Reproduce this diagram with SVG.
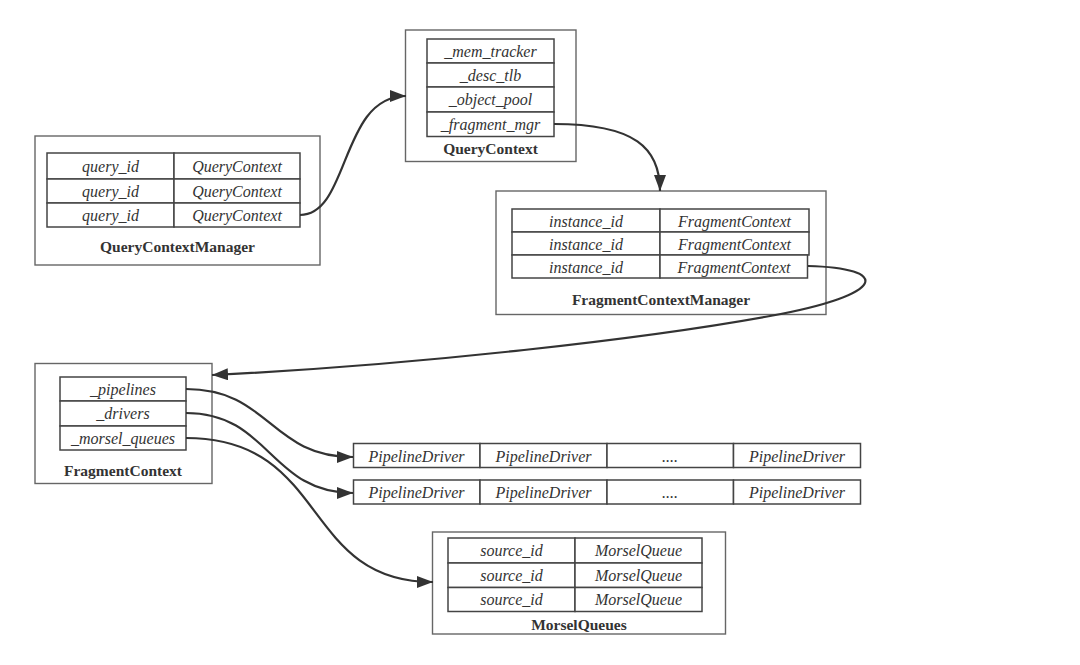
<svg xmlns="http://www.w3.org/2000/svg" width="1080" height="665" viewBox="0 0 1080 665">
<style>
.box{fill:none;stroke:#666;stroke-width:1.4}
.cell{fill:#fff;stroke:#444;stroke-width:1.5}
.t{font-family:"Liberation Serif",serif;font-style:italic;font-size:16px;fill:#333;text-anchor:middle}
.title{font-family:"Liberation Serif",serif;font-weight:bold;font-size:15.5px;fill:#333;text-anchor:middle}
.edge{fill:none;stroke:#333;stroke-width:2.2}
</style>
<defs>
<marker id="arr" markerUnits="userSpaceOnUse" markerWidth="18" markerHeight="14" refX="16" refY="6" orient="auto">
<path d="M0,0 L16,6 L0,12 Z" fill="#333"/>
</marker>
</defs>
<rect width="1080" height="665" fill="#fff"/>

<g id="QueryContextManager">
<rect class="box" x="35" y="136" width="285" height="129"/>
<rect class="cell" x="47" y="153" width="127" height="26"/>
<rect class="cell" x="174" y="153" width="126" height="26"/>
<rect class="cell" x="47" y="179" width="127" height="24"/>
<rect class="cell" x="174" y="179" width="126" height="24"/>
<rect class="cell" x="47" y="203" width="127" height="24"/>
<rect class="cell" x="174" y="203" width="126" height="24"/>
<text class="t" x="110.5" y="171.5">query_id</text>
<text class="t" x="237" y="171.5">QueryContext</text>
<text class="t" x="110.5" y="196.5">query_id</text>
<text class="t" x="237" y="196.5">QueryContext</text>
<text class="t" x="110.5" y="220.5">query_id</text>
<text class="t" x="237" y="220.5">QueryContext</text>
<text class="title" x="177.5" y="251.5">QueryContextManager</text>
</g>

<g id="QueryContext">
<rect class="box" x="405.5" y="30" width="170.5" height="131.5"/>
<rect class="cell" x="427" y="39" width="127" height="24"/>
<rect class="cell" x="427" y="63" width="127" height="24"/>
<rect class="cell" x="427" y="87" width="127" height="25"/>
<rect class="cell" x="427" y="112" width="127" height="24.5"/>
<text class="t" x="490.5" y="56.5">_mem_tracker</text>
<text class="t" x="490.5" y="80.5">_desc_tlb</text>
<text class="t" x="490.5" y="105">_object_pool</text>
<text class="t" x="490.5" y="129.5">_fragment_mgr</text>
<text class="title" x="490.5" y="153.5">QueryContext</text>
</g>

<g id="FragmentContextManager">
<rect class="box" x="496" y="191" width="330" height="123.5"/>
<rect class="cell" x="512" y="209" width="148" height="23"/>
<rect class="cell" x="660" y="209" width="149" height="23"/>
<rect class="cell" x="512" y="232" width="148" height="23"/>
<rect class="cell" x="660" y="232" width="149" height="23"/>
<rect class="cell" x="512" y="255" width="148" height="23"/>
<rect class="cell" x="660" y="255" width="147.5" height="23"/>
<text class="t" x="586" y="226.5">instance_id</text>
<text class="t" x="734.5" y="226.5">FragmentContext</text>
<text class="t" x="586" y="249.5">instance_id</text>
<text class="t" x="734.5" y="249.5">FragmentContext</text>
<text class="t" x="586" y="272.5">instance_id</text>
<text class="t" x="734" y="272.5">FragmentContext</text>
<text class="title" x="661" y="304.5">FragmentContextManager</text>
</g>

<g id="FragmentContext">
<rect class="box" x="35" y="363.5" width="177" height="120"/>
<rect class="cell" x="60" y="377" width="126" height="24"/>
<rect class="cell" x="60" y="401" width="126" height="25"/>
<rect class="cell" x="60" y="426" width="126" height="24"/>
<text class="t" x="123" y="394.5">_pipelines</text>
<text class="t" x="123" y="419">_drivers</text>
<text class="t" x="123" y="443.5">_morsel_queues</text>
<text class="title" x="123" y="475.5">FragmentContext</text>
</g>

<g id="PipelineDrivers1">
<rect class="cell" x="353.5" y="443.5" width="126.5" height="24"/>
<rect class="cell" x="480" y="443.5" width="127" height="24"/>
<rect class="cell" x="607" y="443.5" width="126.5" height="24"/>
<rect class="cell" x="733.5" y="443.5" width="127" height="24"/>
<text class="t" x="416.5" y="461.5">PipelineDriver</text>
<text class="t" x="543.5" y="461.5">PipelineDriver</text>
<text class="t" x="670" y="461.5">....</text>
<text class="t" x="797" y="461.5">PipelineDriver</text>
</g>

<g id="PipelineDrivers2">
<rect class="cell" x="353.5" y="480" width="126.5" height="24"/>
<rect class="cell" x="480" y="480" width="127" height="24"/>
<rect class="cell" x="607" y="480" width="126.5" height="24"/>
<rect class="cell" x="733.5" y="480" width="127" height="24"/>
<text class="t" x="416.5" y="498">PipelineDriver</text>
<text class="t" x="543.5" y="498">PipelineDriver</text>
<text class="t" x="670" y="498">....</text>
<text class="t" x="797" y="498">PipelineDriver</text>
</g>

<g id="MorselQueues">
<rect class="box" x="432.5" y="532" width="293" height="102"/>
<rect class="cell" x="448" y="538" width="127" height="25"/>
<rect class="cell" x="575" y="538" width="127" height="25"/>
<rect class="cell" x="448" y="563" width="127" height="24.5"/>
<rect class="cell" x="575" y="563" width="127" height="24.5"/>
<rect class="cell" x="448" y="587.5" width="127" height="24"/>
<rect class="cell" x="575" y="587.5" width="127" height="24"/>
<text class="t" x="511.5" y="556">source_id</text>
<text class="t" x="638.5" y="556">MorselQueue</text>
<text class="t" x="511.5" y="580.5">source_id</text>
<text class="t" x="638.5" y="580.5">MorselQueue</text>
<text class="t" x="511.5" y="605">source_id</text>
<text class="t" x="638.5" y="605">MorselQueue</text>
<text class="title" x="579" y="629.5">MorselQueues</text>
</g>

<g id="connectors">
<path class="edge" marker-end="url(#arr)" d="M300,215 C350,215 340,96 406,96"/>
<path class="edge" marker-end="url(#arr)" d="M554,124 C635,124 660,148 660,191"/>
<path class="edge" marker-end="url(#arr)" d="M808,266 C890,268 890,294 770,316 S420,365 212,375"/>
<path class="edge" marker-end="url(#arr)" d="M186,389 C270,389 270,457 353,457"/>
<path class="edge" marker-end="url(#arr)" d="M186,413 C270,413 270,493 353,493"/>
<path class="edge" marker-end="url(#arr)" d="M186,438 C330,438 300,582 433,582"/>
</g>
</svg>
